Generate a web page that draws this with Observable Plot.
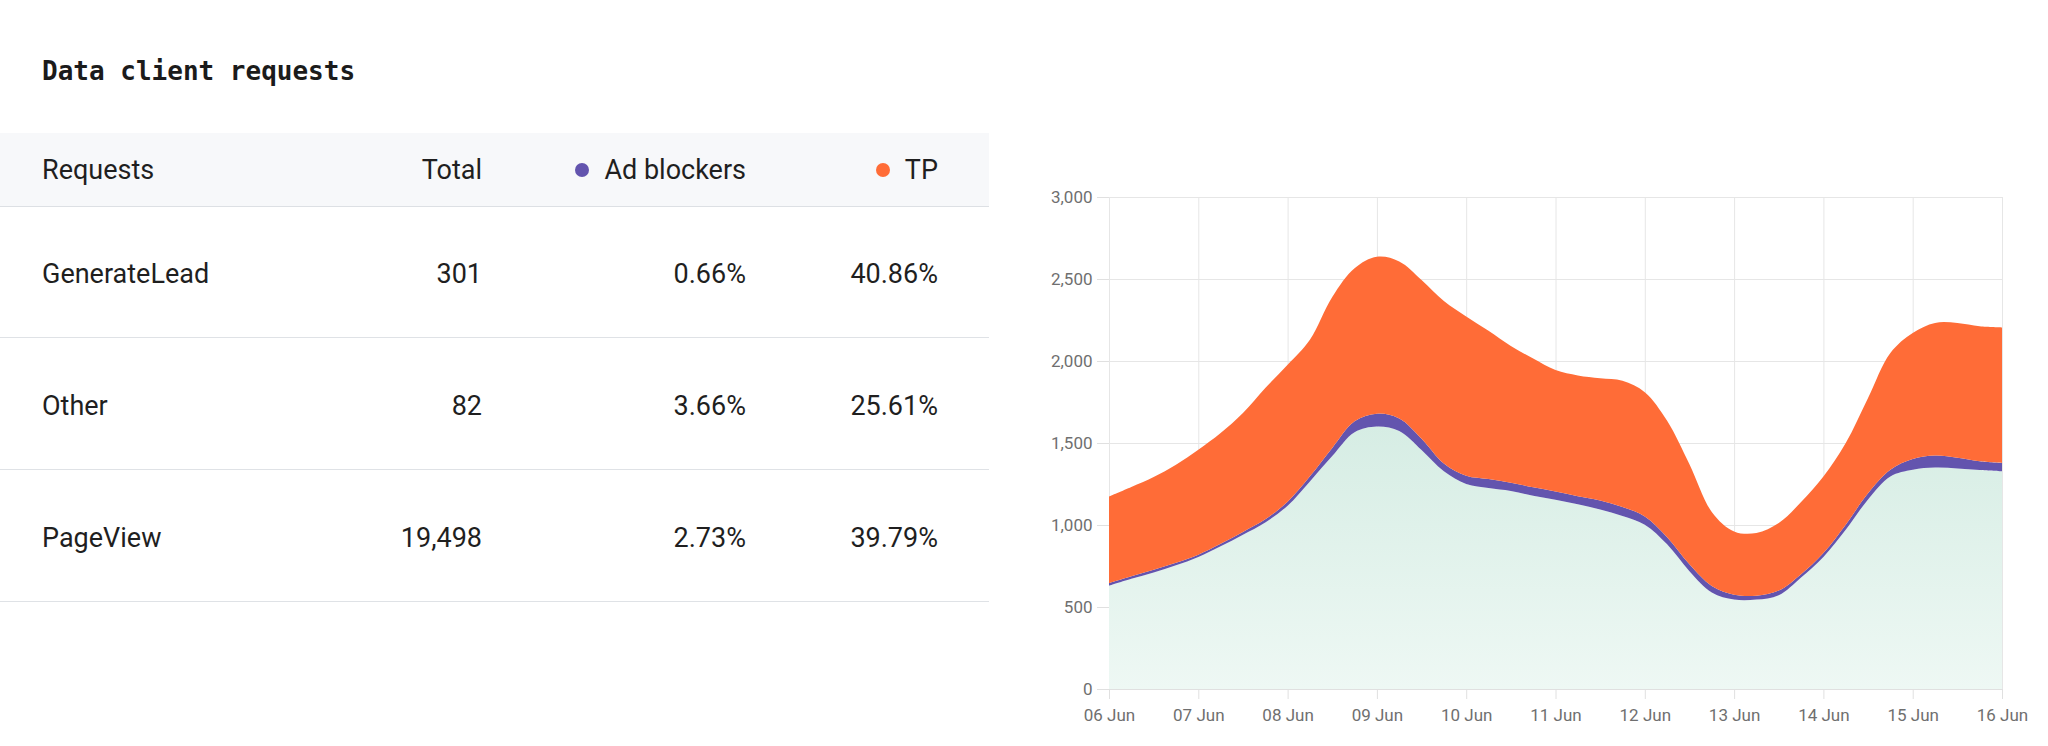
<!DOCTYPE html>
<html>
<head>
<meta charset="utf-8">
<script src="https://cdn.jsdelivr.net/npm/d3@7"></script>
<script src="https://cdn.jsdelivr.net/npm/@observablehq/plot@0.6"></script>
<style>
  html, body { margin: 0; padding: 0; background: #fff; }
  body { width: 2048px; height: 746px; overflow: hidden; position: relative;
         font-family: Roboto, "Noto Sans", sans-serif; color: #1f1f1f; }
  #title { position: absolute; left: 42px; top: 56px; height: 40px; line-height: 40px;
           font: bold 26px "DejaVu Sans Mono", "Liberation Mono", monospace; color: #1b1b1b; white-space: nowrap; }
  #table { position: absolute; left: 0; top: 0; width: 989px; height: 746px; }
  .band { position: absolute; left: 0; width: 989px; }
  .cell { position: absolute; height: 40px; line-height: 40px; font-size: 27px; white-space: nowrap; }
  .right { text-align: right; }
  .dot { position: absolute; width: 14px; height: 14px; border-radius: 50%; }
  #chart { position: absolute; left: 1010px; top: 167px; }
  #chart g[aria-label="y-axis tick"], #chart g[aria-label="x-axis tick"] { stroke: #e0e0e0; }
  #chart g[aria-label="y-axis"] .tick line, #chart g[aria-label="x-axis"] .tick line { stroke: #e0e0e0; }
  #chart g[aria-label="y-axis"] .domain, #chart g[aria-label="x-axis"] .domain { display: none; }
</style>
</head>
<body>
<div id="title">Data client requests</div>
<div id="table"></div>
<div id="chart"></div>
<script>
// ---------- Table data ----------
const headers = ["Requests", "Total", "Ad blockers", "TP"];
const requestNames = ["GenerateLead", "Other", "PageView"];
const totals = [301, 82, 19498];
const adBlockerPct = [0.66, 3.66, 2.73];
const tpPct = [40.86, 25.61, 39.79];

// ---------- Chart data (6-hourly, 06 Jun -> 16 Jun) ----------
const seriesNames = ["Other", "Ad blockers", "TP"];  // stacking order, bottom to top
const seriesColors = ["url(#mintGrad)", "#6354ae", "#ff6c37"];
const otherValues = [630, 672, 711, 754, 805, 870, 941, 1016, 1118, 1266, 1420, 1565, 1600, 1573, 1457, 1327,
  1250, 1225, 1207, 1178, 1154, 1126, 1095, 1055, 1002, 882, 718, 588, 545, 545, 572, 680, 805, 971, 1156,
  1296, 1337, 1350, 1345, 1335, 1327];
const adBlockerValues = [16, 16, 16, 16, 14, 15, 17, 19, 24, 31, 50, 67, 79, 76, 69, 48,
  50, 55, 51, 52, 51, 50, 55, 55, 50, 44, 42, 40, 30, 24, 28, 20, 24, 31, 37,
  41, 65, 74, 65, 53, 51];
const tpValues = [528, 544, 566, 598, 640, 676, 725, 800, 835, 833, 920, 933, 956, 958, 968, 991,
  972, 905, 834, 785, 740, 736, 745, 770, 758, 709, 610, 452, 386, 382, 412, 440, 467, 498, 582,
  712, 769, 808, 822, 824, 827];
const startDate = new Date("2023-06-06T00:00:00Z");
const dayTicks = ["2023-06-06", "2023-06-07", "2023-06-08", "2023-06-09", "2023-06-10", "2023-06-11",
  "2023-06-12", "2023-06-13", "2023-06-14", "2023-06-15", "2023-06-16"].map(s => new Date(s + "T00:00:00Z"));
const yTicks = [0, 500, 1000, 1500, 2000, 2500, 3000];

// ---------- Build table ----------
const table = d3.select("#table");
table.append("div").attr("class", "band").style("top", "133px").style("height", "73px")
  .style("background", "#f7f8fa").style("border-bottom", "1px solid #dde0e4");
const rowTop = [206, 338, 470];
rowTop.forEach(t => table.append("div").attr("class", "band").style("top", t + "px")
  .style("height", "131px").style("border-bottom", "1px solid #dfe2e6"));

const colRight = [null, 482, 746, 938];
const headerY = 170, rowY = [274, 406, 538];
const dotColors = [null, null, "#6354ae", "#ff6c37"];

function addCell(text, centerY, col) {
  const c = table.append("div").attr("class", "cell").text(text).style("top", (centerY - 20) + "px");
  if (col === 0) c.style("left", "42px");
  else c.attr("class", "cell right").style("right", (989 - colRight[col]) + "px");
  return c;
}
headers.forEach((h, i) => {
  const c = addCell(h, headerY, i);
  if (dotColors[i]) {
    const node = c.node();
    const w = node.getBoundingClientRect().width;
    table.append("div").attr("class", "dot").style("background", dotColors[i])
      .style("left", (colRight[i] - w - 15 - 14) + "px").style("top", (headerY - 7) + "px");
  }
});
requestNames.forEach((name, r) => {
  addCell(name, rowY[r], 0);
  addCell(d3.format(",")(totals[r]), rowY[r], 1);
  addCell(adBlockerPct[r].toFixed(2) + "%", rowY[r], 2);
  addCell(tpPct[r].toFixed(2) + "%", rowY[r], 3);
});

// ---------- Build chart ----------
const valuesBySeries = [otherValues, adBlockerValues, tpValues];
const rows = [];
seriesNames.forEach((s, k) => {
  valuesBySeries[k].forEach((v, i) => {
    rows.push({date: d3.utcHour.offset(startDate, 6 * i), series: s, value: v});
  });
});

const chart = Plot.plot({
  width: 1030,
  height: 572,
  marginLeft: 99,
  marginRight: 38,
  marginTop: 30,
  marginBottom: 50,
  style: {fontFamily: "Roboto, sans-serif", fontSize: "17px", color: "#6f6f6f", background: "transparent", overflow: "visible"},
  x: {type: "utc", domain: [dayTicks[0], dayTicks[dayTicks.length - 1]], ticks: dayTicks,
      tickFormat: d3.utcFormat("%d %b"), tickSize: 10, tickPadding: 9, label: null},
  y: {domain: [0, 3000], ticks: yTicks, tickFormat: d3.format(","), tickSize: 12, tickPadding: 5, label: null},
  color: {domain: seriesNames, range: seriesColors},
  marks: [
    Plot.ruleY(yTicks, {stroke: "#e6e6e6", strokeWidth: 1}),
    Plot.ruleX(dayTicks, {stroke: "#e6e6e6", strokeWidth: 1}),
    Plot.areaY(rows, {x: "date", y: "value", z: "series", fill: "series", curve: "catmull-rom"}),
    Plot.ruleY([0], {stroke: "#e0e0e0"})
  ]
});
const defs = d3.select(chart).insert("defs", ":first-child");
const grad = defs.append("linearGradient").attr("id", "mintGrad")
  .attr("x1", 0).attr("y1", 0).attr("x2", 0).attr("y2", 1);
grad.append("stop").attr("offset", "0%").attr("stop-color", "#d6ede4");
grad.append("stop").attr("offset", "100%").attr("stop-color", "#eef8f4");
document.getElementById("chart").appendChild(chart);
</script>
</body>
</html>
